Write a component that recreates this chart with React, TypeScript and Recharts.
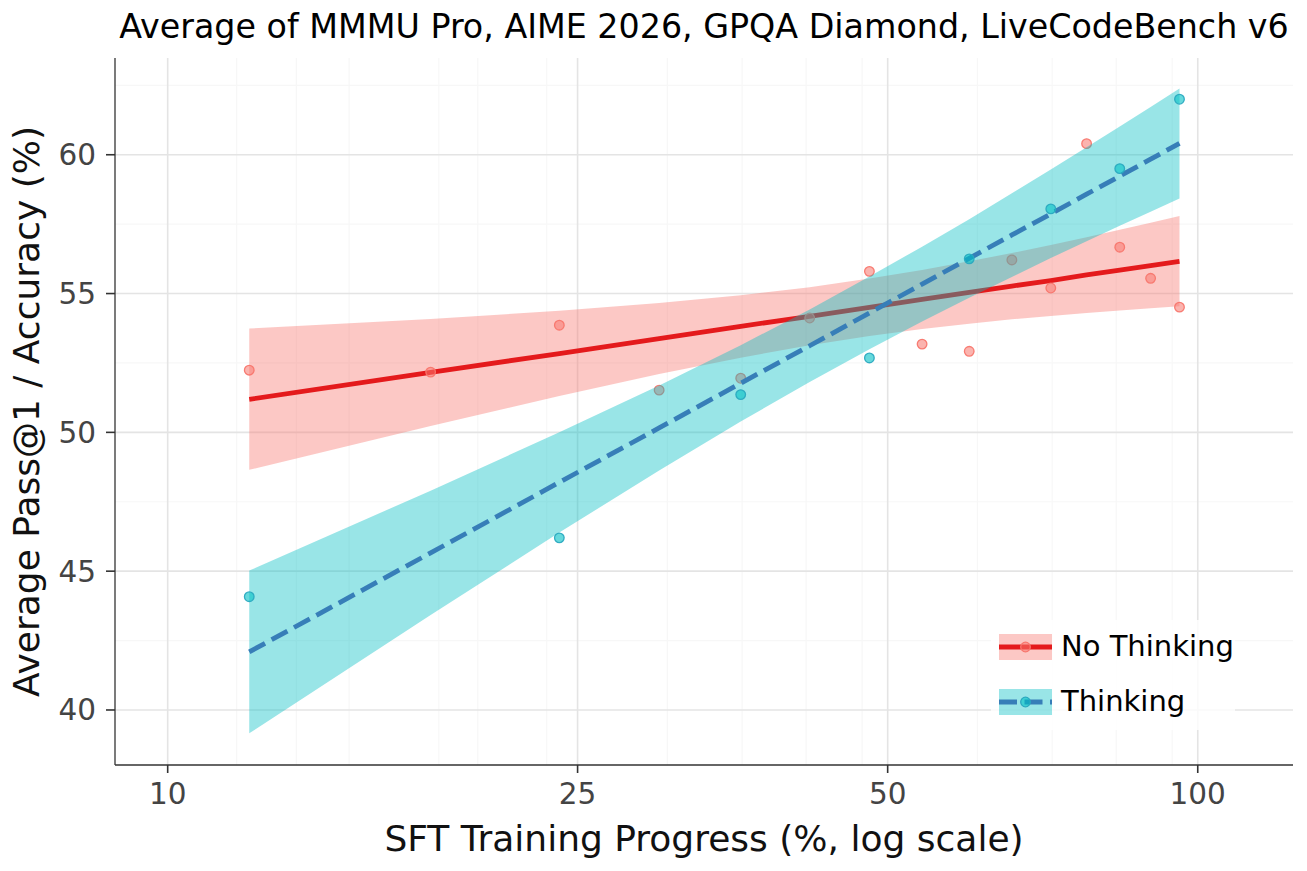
import React from 'react';
import { ComposedChart, XAxis, YAxis, CartesianGrid, Area, Line, Scatter } from 'recharts';

const titleText = 'Average of MMMU Pro, AIME 2026, GPQA Diamond, LiveCodeBench v6';
const xLabel = 'SFT Training Progress (%, log scale)';
const yLabel = 'Average Pass@1 / Accuracy (%)';
const seriesNames = ['No Thinking', 'Thinking'];

const steps = [12, 18, 24, 30, 36, 42, 48, 54, 60, 66, 72, 78, 84, 90, 96];
const noThinkingAcc = [52.24, 52.17, 53.86, 51.52, 51.95, 54.12, 55.8, 53.18, 52.92, 56.21, 55.2, 60.4, 56.67, 55.55, 54.51];
const thinkingSteps = [12, 24, 36, 48, 60, 72, 84, 96];
const thinkingAcc = [44.08, 46.2, 51.36, 52.68, 56.25, 58.05, 59.5, 62.0];

const noThinkingFit = [51.19, 52.16, 52.84, 53.38, 53.82, 54.18, 54.5, 54.79, 55.04, 55.27, 55.47, 55.67, 55.84, 56.01, 56.16];
const noThinkingLow = [48.65, 50.23, 51.31, 52.1, 52.69, 53.14, 53.47, 53.72, 53.91, 54.07, 54.19, 54.3, 54.39, 54.47, 54.54];
const noThinkingHigh = [53.74, 54.08, 54.38, 54.66, 54.94, 55.23, 55.54, 55.85, 56.16, 56.46, 56.75, 57.03, 57.3, 57.55, 57.79];

const thinkingFit = [42.09, 45.66, 48.2, 50.16, 51.77, 53.12, 54.3, 55.34, 56.27, 57.11, 57.87, 58.58, 59.23, 59.84, 60.41];
const thinkingLow = [39.16, 43.42, 46.39, 48.63, 50.39, 51.81, 52.99, 53.99, 54.85, 55.6, 56.28, 56.88, 57.44, 57.95, 58.42];
const thinkingHigh = [45.02, 47.9, 50.0, 51.69, 53.14, 54.43, 55.61, 56.69, 57.68, 58.61, 59.47, 60.27, 61.02, 61.72, 62.39];

const xTicks = [10, 25, 50, 100];
const yTicks = [40, 45, 50, 55, 60];
const xMinor = [11.667, 13.333, 15, 16.667, 18.333, 20, 21.667, 23.333, 27.778, 30.556, 33.333, 36.111, 38.889, 41.667, 44.444, 47.222, 55.556, 61.111, 66.667, 72.222, 77.778, 83.333, 88.889, 94.444];
const yMinor = [42.5, 47.5, 52.5, 57.5, 62.5];

const rows = steps.map((x, i) => ({
  x,
  nBand: [noThinkingLow[i], noThinkingHigh[i]],
  nFit: noThinkingFit[i],
  tBand: [thinkingLow[i], thinkingHigh[i]],
  tFit: thinkingFit[i],
}));
const noThinkPts = steps.map((x, i) => ({ x, y: noThinkingAcc[i] }));
const thinkPts = thinkingSteps.map((x, i) => ({ x, y: thinkingAcc[i] }));

const RED = '#F8766D';
const CYAN = '#00BFC4';
const RED_LINE = '#E41A1C';
const BLUE_LINE = '#377EB8';
const FONT = 'DejaVu Sans, sans-serif';

const redDot = (p: any) => (
  <circle cx={p.cx} cy={p.cy} r={4.8} fill={RED} fillOpacity={0.55} stroke={RED} strokeOpacity={0.95} strokeWidth={1.3} />
);
const cyanDot = (p: any) => (
  <circle cx={p.cx} cy={p.cy} r={4.8} fill={CYAN} fillOpacity={0.6} stroke="#2aa9c0" strokeOpacity={0.95} strokeWidth={1.3} />
);

export default function App() {
  return (
    <div style={{ position: 'absolute', left: 0, top: 0, width: 1307, height: 871, background: '#fff' }}>
      <ComposedChart width={1307} height={871} data={rows} margin={{ top: 58, right: 14, bottom: 56, left: 0 }}>
        <CartesianGrid verticalValues={xMinor} horizontalValues={yMinor} stroke="#f7f7f7" strokeWidth={1.2} />
        <CartesianGrid verticalValues={xTicks} horizontalValues={yTicks} stroke="#e4e4e4" strokeWidth={1.6} />
        <XAxis
          dataKey="x"
          type="number"
          scale="log"
          domain={[8.889, 123.73]}
          allowDataOverflow
          ticks={xTicks}
          height={50}
          tickSize={8}
          tickMargin={10}
          axisLine={{ stroke: '#333', strokeWidth: 1.3 }}
          tickLine={{ stroke: '#333', strokeWidth: 1.6 }}
          tick={{ fill: '#444', fontSize: 29.5, fontFamily: FONT }}
        />
        <YAxis
          type="number"
          domain={[38.018, 63.485]}
          allowDataOverflow
          ticks={yTicks}
          width={115}
          tickSize={9}
          tickMargin={10}
          axisLine={{ stroke: '#333', strokeWidth: 1.3 }}
          tickLine={{ stroke: '#333', strokeWidth: 1.6 }}
          tick={{ fill: '#444', fontSize: 29.5, fontFamily: FONT }}
        />
        <Area dataKey="nBand" type="linear" stroke="none" fill={RED} fillOpacity={0.4} isAnimationActive={false} activeDot={false} zIndex={101} />
        <Line dataKey="nFit" type="linear" stroke={RED_LINE} strokeWidth={4.8} dot={false} activeDot={false} isAnimationActive={false} zIndex={102} />
        <Scatter data={noThinkPts} dataKey="y" shape={redDot} isAnimationActive={false} zIndex={103} />
        <Area dataKey="tBand" type="linear" stroke="none" fill={CYAN} fillOpacity={0.4} isAnimationActive={false} activeDot={false} zIndex={104} />
        <Line dataKey="tFit" type="linear" stroke={BLUE_LINE} strokeWidth={4.8} strokeDasharray="18 7.5" dot={false} activeDot={false} isAnimationActive={false} zIndex={105} />
        <Scatter data={thinkPts} dataKey="y" shape={cyanDot} isAnimationActive={false} zIndex={106} />
        <text x={704} y={38} textAnchor="middle" fontSize={33.3} fill="#000" fontFamily={FONT}>{titleText}</text>
        <text x={704} y={851} textAnchor="middle" fontSize={36} fill="#111" fontFamily={FONT}>{xLabel}</text>
        <text x={38.5} y={411.5} transform="rotate(-90 38.5 411.5)" textAnchor="middle" fontSize={36} fill="#111" fontFamily={FONT}>{yLabel}</text>
      </ComposedChart>
      <svg width={1307} height={871} style={{ position: 'absolute', left: 0, top: 0, pointerEvents: 'none' }}>
        <rect x={991} y={620} width={244} height={110} rx={4} fill="#fff" fillOpacity={0.8} />
        <rect x={999} y={634} width={53} height={26} fill={RED} fillOpacity={0.4} />
        <line x1={999} y1={647} x2={1052} y2={647} stroke={RED_LINE} strokeWidth={5} />
        <circle cx={1025.5} cy={647} r={4.8} fill={RED} fillOpacity={0.55} stroke={RED} strokeWidth={1.3} />
        <text x={1061} y={655.5} fontSize={29} fill="#000" fontFamily={FONT}>{seriesNames[0]}</text>
        <rect x={999} y={689} width={53} height={26} fill={CYAN} fillOpacity={0.4} />
        <line x1={999} y1={702} x2={1052} y2={702} stroke={BLUE_LINE} strokeWidth={5} strokeDasharray="18 7.5" />
        <circle cx={1025.5} cy={702} r={4.8} fill={CYAN} fillOpacity={0.6} stroke="#2aa9c0" strokeWidth={1.3} />
        <text x={1061} y={710.5} fontSize={29} fill="#000" fontFamily={FONT}>{seriesNames[1]}</text>
      </svg>
    </div>
  );
}
